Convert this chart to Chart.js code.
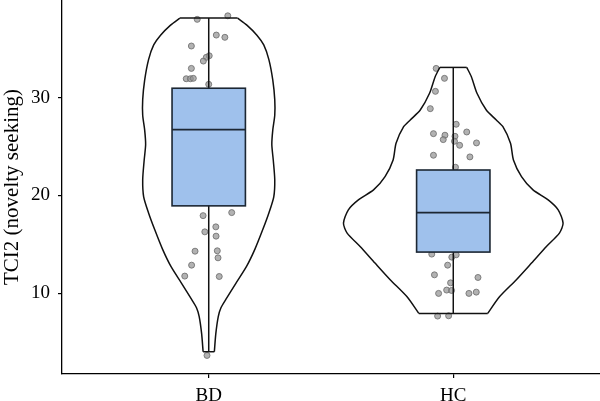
<!DOCTYPE html>
<html>
<head>
<meta charset="utf-8">
<script src="https://cdn.jsdelivr.net/npm/chart.js@4.4.0/dist/chart.umd.min.js"></script>
<style>
  html, body { margin: 0; padding: 0; background: #fff; }
  #wrap { width: 600px; height: 401px; }
</style>
</head>
<body>
<div id="wrap"><canvas id="chart"></canvas></div>
<script>
// categories and tick labels
const groups = ['BD', 'HC'];
const yTicks = [10, 20, 30];

// box plot stats, one per group
const q1 = [18.93, 14.2];
const median = [26.73, 18.24];
const q3 = [30.97, 22.6];
const whiskerLow = [4.0, 7.92];
const whiskerHigh = [38.15, 33.1];

// violin outline, bottom to top: value and half width (category units)
const bdViolinY = [4.0, 5.85, 7.6, 8.5, 9.35, 11.0, 12.7, 14.5, 16.5, 18.2, 19.85, 21.6, 23.6, 25.2, 26.7, 28.2, 29.8, 31.8, 33.9, 35.4, 36.4, 37.43, 38.15];
const bdViolinHalf = [0.023, 0.029, 0.039, 0.050, 0.070, 0.111, 0.154, 0.189, 0.221, 0.246, 0.266, 0.270, 0.264, 0.258, 0.262, 0.270, 0.270, 0.262, 0.246, 0.225, 0.197, 0.156, 0.118];
const hcViolinY = [7.92, 9.62, 11.37, 13.07, 14.77, 16.14, 17.16, 18.52, 19.54, 20.56, 21.92, 23.63, 25.34, 27.03, 27.72, 28.74, 30.45, 32.15, 33.1];
const hcViolinHalf = [0.141, 0.189, 0.258, 0.320, 0.381, 0.434, 0.449, 0.429, 0.388, 0.326, 0.279, 0.246, 0.234, 0.203, 0.176, 0.135, 0.097, 0.074, 0.055];

const bdPointsY = [38.02, 38.38, 36.41, 36.18, 35.29, 34.29, 34.13, 33.75, 33.0, 31.94, 31.94, 31.98, 31.37, 18.24, 17.93, 16.78, 16.27, 15.83, 14.29, 14.33, 13.61, 12.86, 11.74, 11.70, 3.62];
const bdPointsJitter = [-0.047, 0.078, 0.031, 0.066, -0.071, 0.002, -0.010, -0.022, -0.071, -0.092, -0.075, -0.063, 0.0, 0.094, -0.023, 0.029, -0.016, 0.030, -0.056, 0.035, 0.038, -0.070, -0.098, 0.043, -0.007];
const hcPointsY = [33.0, 31.98, 30.65, 28.88, 27.28, 26.32, 26.16, 25.71, 26.49, 26.05, 25.54, 25.13, 25.37, 24.11, 23.94, 22.88, 13.99, 13.68, 13.92, 12.86, 11.87, 11.60, 11.05, 9.97, 10.31, 10.27, 9.97, 10.10, 7.65, 7.68];
const hcPointsJitter = [-0.070, -0.036, -0.073, -0.094, 0.012, -0.081, -0.034, -0.041, 0.055, 0.007, 0.005, 0.026, 0.095, -0.081, 0.068, 0.009, -0.088, -0.006, 0.012, -0.023, -0.077, 0.101, -0.011, -0.060, -0.027, -0.007, 0.064, 0.094, -0.064, -0.019];

const violins = [
  { y: bdViolinY, half: bdViolinHalf },
  { y: hcViolinY, half: hcViolinHalf }
];
const points = [
  { y: bdPointsY, jitter: bdPointsJitter },
  { y: hcPointsY, jitter: hcPointsJitter }
];

const BOX_HALF = 0.15;
const LINE = '#111';

function lineSet(data, tension) {
  return {
    type: 'scatter',
    data: data,
    showLine: true,
    tension: tension,
    borderColor: LINE,
    borderWidth: 1.5,
    pointRadius: 0,
    fill: false
  };
}

const datasets = [];
violins.forEach((v, i) => {
  const c = i + 1;
  const last = v.y.length - 1;
  datasets.push(lineSet(v.y.map((val, k) => ({ x: c + v.half[k], y: val })), 0.25));
  datasets.push(lineSet(v.y.map((val, k) => ({ x: c - v.half[k], y: val })), 0.25));
  datasets.push(lineSet([{ x: c - v.half[last], y: v.y[last] }, { x: c + v.half[last], y: v.y[last] }], 0));
  datasets.push(lineSet([{ x: c - v.half[0], y: v.y[0] }, { x: c + v.half[0], y: v.y[0] }], 0));
  // whisker
  datasets.push(lineSet([{ x: c, y: whiskerLow[i] }, { x: c, y: whiskerHigh[i] }], 0));
});
points.forEach((p, i) => {
  const c = i + 1;
  datasets.push({
    type: 'scatter',
    data: p.y.map((val, k) => ({ x: c + p.jitter[k], y: val })),
    pointRadius: 3,
    backgroundColor: 'rgba(145,145,145,0.7)',
    borderColor: 'rgba(110,110,110,0.85)',
    borderWidth: 1
  });
});

// box + median drawn over the points, positioned through the chart scales
const boxPlugin = {
  id: 'boxes',
  afterDatasetsDraw(chart) {
    const { ctx } = chart;
    const x = chart.scales.x, y = chart.scales.y;
    groups.forEach((g, i) => {
      const c = i + 1;
      const l = x.getPixelForValue(c - BOX_HALF);
      const r = x.getPixelForValue(c + BOX_HALF);
      const t = y.getPixelForValue(q3[i]);
      const b = y.getPixelForValue(q1[i]);
      const m = y.getPixelForValue(median[i]);
      ctx.save();
      ctx.fillStyle = '#9fc1ec';
      ctx.fillRect(l, t, r - l, b - t);
      ctx.strokeStyle = '#1c2733';
      ctx.lineWidth = 1.6;
      ctx.strokeRect(l, t, r - l, b - t);
      ctx.beginPath();
      ctx.moveTo(l, m);
      ctx.lineTo(r, m);
      ctx.stroke();
      ctx.restore();
    });
  }
};

Chart.defaults.font.family = "'Liberation Serif', 'Times New Roman', serif";
Chart.defaults.color = '#000';

new Chart(document.getElementById('chart'), {
  type: 'scatter',
  data: { datasets: datasets },
  plugins: [boxPlugin],
  options: {
    responsive: true,
    maintainAspectRatio: false,
    animation: false,
    layout: { padding: 0, autoPadding: false },
    plugins: { legend: { display: false }, tooltip: { enabled: false } },
    scales: {
      x: {
        type: 'linear',
        min: 0.4,
        max: 2.6,
        afterBuildTicks: s => { s.ticks = groups.map((g, i) => ({ value: i + 1 })); },
        ticks: {
          font: { size: 19 },
          padding: 7,
          callback: v => groups[v - 1]
        },
        grid: { drawOnChartArea: false, drawTicks: true, tickLength: 4, color: '#000', lineWidth: 1.2 },
        border: { color: '#000', width: 1.3 },
        afterFit: s => { s.height = 27; s.paddingLeft = 0; s.paddingRight = 0; }
      },
      y: {
        min: 1.72,
        max: 40,
        afterBuildTicks: s => { s.ticks = yTicks.map(v => ({ value: v })); },
        ticks: { font: { size: 19 }, padding: 8 },
        grid: { drawOnChartArea: false, drawTicks: true, tickLength: 4, color: '#000', lineWidth: 1.2 },
        border: { color: '#000', width: 1.3 },
        title: { display: true, text: 'TCI2 (novelty seeking)', font: { size: 21 }, padding: 0 },
        afterFit: s => { s.width = 62; s.paddingTop = 0; s.paddingBottom = 0; }
      }
    }
  }
});
</script>
</body>
</html>
